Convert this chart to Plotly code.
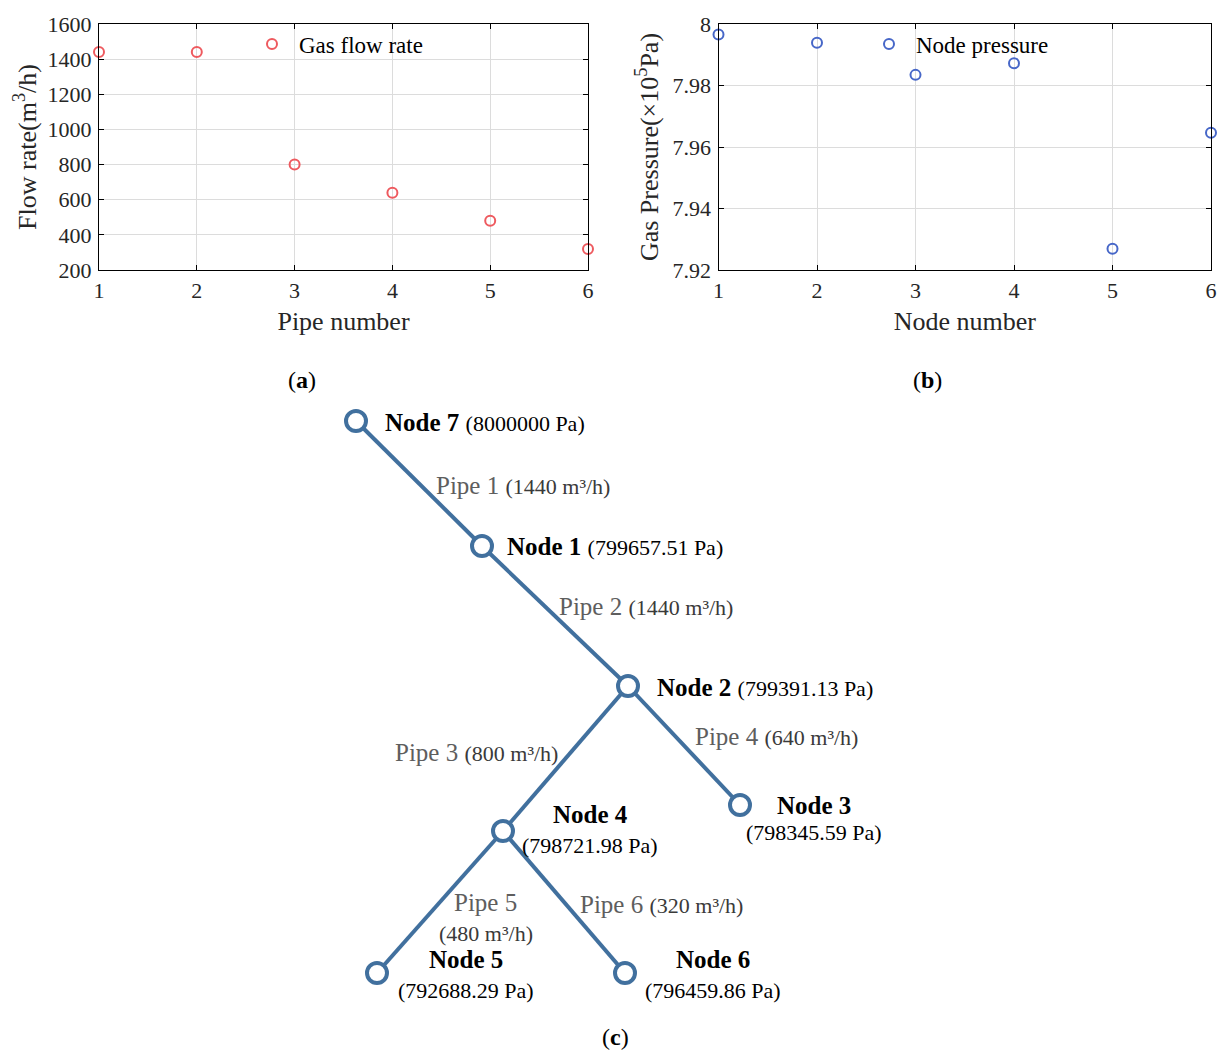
import plotly.graph_objects as go

# ---------------------------------------------------------------- data
pipe_numbers = [1, 2, 3, 4, 5, 6]
pipe_flow_m3h = [1440, 1440, 800, 640, 480, 320]

node_numbers = [1, 2, 3, 4, 5, 6]
node_pressure_pa = [799657.51, 799391.13, 798345.59, 798721.98, 792688.29, 796459.86]
source_pressure_pa = 8000000  # node 7 (supply)

# pipes as (pipe number, upstream node, downstream node)
pipes = [(1, 7, 1), (2, 1, 2), (3, 2, 4), (4, 2, 3), (5, 4, 5), (6, 4, 6)]

# ---------------------------------------------------------------- page geometry
W, H = 1223, 1052
FONT = "Palatino Linotype, Book Antiqua, Palatino, Liberation Serif, serif"
TICK_COLOR = "#262626"


def px(x):
    return x / W


def py(y):
    return 1 - y / H


# diagram layout positions (diagram units = page pixels)
node_xy = {
    7: (356, 421), 1: (482, 546), 2: (628, 686), 3: (740, 805),
    4: (503, 831), 5: (377, 973), 6: (625, 973),
}

fig = go.Figure()

# ---------------------------------------------------------------- (a) pipe flow
fig.add_trace(go.Scatter(
    x=pipe_numbers, y=pipe_flow_m3h, mode="markers", name="Gas flow rate",
    marker=dict(symbol="circle-open", size=10, color="#ee5a5f", line=dict(width=2)),
    cliponaxis=False, xaxis="x", yaxis="y", legend="legend",
))

# ---------------------------------------------------------------- (b) node pressure
fig.add_trace(go.Scatter(
    x=node_numbers, y=[p / 1e5 for p in node_pressure_pa], mode="markers",
    name="Node pressure",
    marker=dict(symbol="circle-open", size=10, color="#4767c8", line=dict(width=2)),
    cliponaxis=False, xaxis="x2", yaxis="y2", legend="legend2",
))

# ---------------------------------------------------------------- (c) network
PIPE_COLOR = "#41709e"
lx, ly = [], []
for _, a, b in pipes:
    lx += [node_xy[a][0], node_xy[b][0], None]
    ly += [node_xy[a][1], node_xy[b][1], None]
fig.add_trace(go.Scatter(
    x=lx, y=ly, mode="lines", line=dict(color=PIPE_COLOR, width=4),
    showlegend=False, hoverinfo="skip", xaxis="x3", yaxis="y3",
))
order = [7] + node_numbers
fig.add_trace(go.Scatter(
    x=[node_xy[n][0] for n in order], y=[node_xy[n][1] for n in order],
    mode="markers",
    marker=dict(symbol="circle", size=20, color="white",
                line=dict(color=PIPE_COLOR, width=4)),
    showlegend=False, cliponaxis=False, xaxis="x3", yaxis="y3",
))

annotations = []


def note(text, x, y, size, color="black", xanchor="center", ref="paper"):
    if ref == "paper":
        xx, yy, xr, yr = px(x), py(y), "paper", "paper"
    else:
        xx, yy, xr, yr = x, y, "x3", "y3"
    annotations.append(dict(
        text=text, x=xx, y=yy, xref=xr, yref=yr, xanchor=xanchor,
        yanchor="middle", showarrow=False,
        font=dict(family=FONT, size=size, color=color),
    ))


# panel letters
note("(<b>a</b>)", 302, 380, 24)
note("(<b>b</b>)", 927, 380, 24)
note("(<b>c</b>)", 615, 1037, 24)


def fmt_pa(p):
    return f"{p:.2f}" if p != int(p) else f"{int(p)}"


pressure = dict(zip(node_numbers, node_pressure_pa))
pressure[7] = source_pressure_pa
flow = dict(zip(pipe_numbers, pipe_flow_m3h))
PAR = 22
BIG = 25


def par(t, color="black"):
    return f"<span style='font-size:{PAR}px;color:{color}'>{t}</span>"


# node labels: inline (left anchored) or stacked (centred)
inline_nodes = {7: (383, 422), 1: (505, 546), 2: (655, 687)}
for n, (x, y) in inline_nodes.items():
    note(f"<b>Node {n}</b> " + par(f"({fmt_pa(pressure[n])} Pa)"), x, y, BIG,
         xanchor="left", ref="d")
stacked_nodes = {3: (814, 805, 832), 4: (590, 814, 845), 5: (466, 959, 990), 6: (713, 959, 990)}
for n, (x, y1, y2) in stacked_nodes.items():
    note(f"<b>Node {n}</b>", x, y1, BIG, ref="d")
    note(f"({fmt_pa(pressure[n])} Pa)", x, y2, PAR, ref="d")

# pipe labels
PIPE_TXT = "#5e5e5e"
PAR_TXT = "#3a3a3a"
inline_pipes = {1: (434, 485), 2: (557, 606), 3: (393, 752), 4: (693, 736), 6: (578, 904)}
for k, (x, y) in inline_pipes.items():
    note(f"Pipe {k} " + par(f"({flow[k]} m³/h)", PAR_TXT), x, y, BIG, PIPE_TXT,
         xanchor="left", ref="d")
note("Pipe 5", 485, 902, BIG, PIPE_TXT, ref="d")
note(f"({flow[5]} m³/h)", 486, 933, PAR, PAR_TXT, ref="d")

# ---------------------------------------------------------------- axes
TITLE_FONT = dict(family=FONT, size=26, color=TICK_COLOR)
axis_common = dict(
    showline=True, linecolor="black", linewidth=1.3, mirror="ticks",
    ticks="inside", ticklen=5, tickwidth=1.2, tickcolor="black",
    showgrid=True, gridcolor="#dcdcdc", gridwidth=1, zeroline=False,
    tickfont=dict(family=FONT, size=22, color=TICK_COLOR),
    automargin=False,
)
top_dom = [py(270), py(24)]
legend_common = dict(
    xanchor="left", yanchor="middle", bgcolor="rgba(0,0,0,0)", borderwidth=0,
    itemwidth=44, font=dict(family=FONT, size=23, color="black"),
)

fig.update_layout(
    width=W, height=H, margin=dict(l=0, r=0, t=0, b=0),
    paper_bgcolor="white", plot_bgcolor="white",
    font=dict(family=FONT),
    xaxis=dict(axis_common, domain=[px(99), px(588)], range=[1, 6], dtick=1,
               anchor="y",
               title=dict(text="Pipe number", font=TITLE_FONT, standoff=10)),
    yaxis=dict(axis_common, domain=top_dom, range=[200, 1600], dtick=200,
               anchor="x", ticklabelstandoff=2,
               title=dict(text="Flow rate(m<sup>3</sup>/h)", font=TITLE_FONT,
                          standoff=3)),
    xaxis2=dict(axis_common, domain=[px(718.5), px(1211)], range=[1, 6], dtick=1,
                anchor="y2",
                title=dict(text="Node number", font=TITLE_FONT, standoff=10)),
    yaxis2=dict(axis_common, domain=top_dom, range=[7.92, 8.0],
                tickvals=[7.92, 7.94, 7.96, 7.98, 8.0],
                ticktext=["7.92", "7.94", "7.96", "7.98", "8"],
                anchor="x2", ticklabelstandoff=2,
                title=dict(text="Gas Pressure(×10<sup>5</sup>Pa)", font=TITLE_FONT,
                           standoff=6)),
    xaxis3=dict(domain=[0, 1], range=[0, W], visible=False, fixedrange=True,
                anchor="y3"),
    yaxis3=dict(domain=[0, py(380)], range=[H, 380], visible=False,
                fixedrange=True, anchor="x3"),
    legend=dict(legend_common, x=px(245), y=py(44)),
    legend2=dict(legend_common, x=px(862), y=py(44)),
    showlegend=True,
    annotations=annotations,
)

# page without the default body margin so the figure sits at the window origin
fig.write_html(
    "out.html",
    post_script="document.body.style.margin='0px';"
                "document.body.style.overflow='hidden';",
)
